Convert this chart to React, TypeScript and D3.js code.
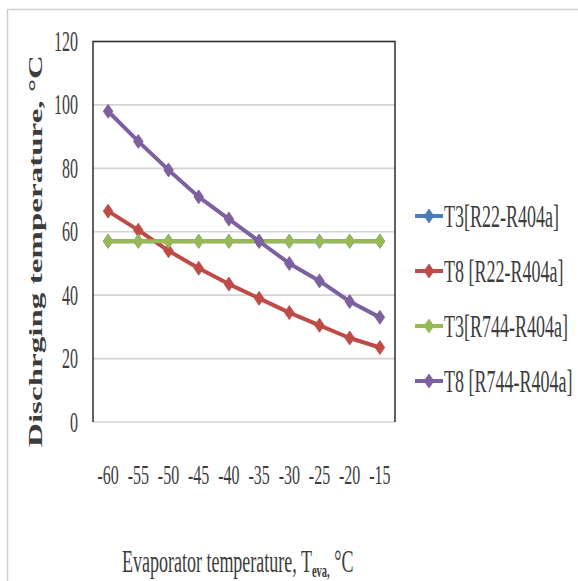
import React from "react";
import * as d3 from "d3";

const categories = [-60, -55, -50, -45, -40, -35, -30, -25, -20, -15];
const t3R22 = [57, 57, 57, 57, 57, 57, 57, 57, 57, 57];
const t8R22 = [66.5, 60.5, 54, 48.5, 43.5, 39, 34.5, 30.5, 26.5, 23.5];
const t3R744 = [57, 57, 57, 57, 57, 57, 57, 57, 57, 57];
const t8R744 = [98, 88.5, 79.5, 71, 64, 57, 50, 44.5, 38, 33];
const seriesNames = ["T3[R22-R404a]", "T8 [R22-R404a]", "T3[R744-R404a]", "T8 [R744-R404a]"];
const seriesColors = ["#4a7ebb", "#be4b48", "#98b954", "#7d60a0"];
const yTicks = [0, 20, 40, 60, 80, 100, 120];

const W = 578;
const H = 581;
const plot = { left: 93, right: 395, top: 41.5, bottom: 422 };
const textColor = "#3c3c3c";
const serif = "'Liberation Serif', 'Times New Roman', serif";

function STxt({ x, y, sy, fs, anchor, children, bold, fill, len }: any) {
  return (
    <g transform={`translate(${x},${y}) scale(1,${sy})`}>
      <text
        x={0}
        y={0}
        fontSize={fs}
        fontFamily={serif}
        textAnchor={anchor || "start"}
        fontWeight={bold ? "bold" : "normal"}
        fill={fill || textColor}
        textLength={len}
        lengthAdjust={len ? "spacingAndGlyphs" : undefined}
      >
        {children}
      </text>
    </g>
  );
}

function Diamond({ cx, cy, color }: any) {
  const w = 4.8;
  const h = 7;
  return (
    <path
      d={`M${cx},${cy - h}L${cx + w},${cy}L${cx},${cy + h}L${cx - w},${cy}Z`}
      fill={color}
      stroke={color}
      strokeWidth={0.8}
    />
  );
}

export default function App() {
  const x = d3.scalePoint<number>().domain(categories).range([plot.left, plot.right]).padding(0.5);
  const y = d3.scaleLinear().domain([0, 120]).range([plot.bottom, plot.top]);
  const allSeries = [t3R22, t8R22, t3R744, t8R744];
  const line = d3
    .line<number>()
    .x((_, i) => x(categories[i]) as number)
    .y((d) => y(d));

  const legendY = [216, 271, 326, 381];

  return (
    <svg
      width={W}
      height={H}
      style={{ position: "absolute", left: 0, top: 0, background: "#fff" }}
    >
      <rect x={0} y={0} width={W} height={H} fill="#fff" />
      <rect x={7.5} y={9.5} width={W + 10} height={H + 10} fill="none" stroke="#d0d0d0" strokeWidth={1.5} />

      {/* gridlines */}
      {yTicks.map((t) => (
        <line
          key={t}
          x1={plot.left}
          x2={plot.right}
          y1={y(t)}
          y2={y(t)}
          stroke="#d4d4d4"
          strokeWidth={1.6}
        />
      ))}
      {/* plot border: top, left, right */}
      <path
        d={`M${plot.left},${plot.bottom}V${plot.top}H${plot.right}V${plot.bottom}`}
        fill="none"
        stroke="#2e2e2e"
        strokeWidth={1.5}
      />

      {/* y tick labels */}
      {yTicks.map((t) => (
        <STxt key={t} x={78} y={y(t) + 9.5} sy={1.85} fs={16} anchor="end">
          {t}
        </STxt>
      ))}

      {/* x tick labels */}
      {categories.map((c) => (
        <STxt key={c} x={x(c) as number} y={483.5} sy={1.65} fs={16} anchor="middle">
          {c}
        </STxt>
      ))}

      {/* series */}
      {allSeries.map((s, si) => (
        <g key={si}>
          <path d={line(s) as string} fill="none" stroke={seriesColors[si]} strokeWidth={4} strokeLinejoin="round" />
          {s.map((v, i) => (
            <Diamond key={i} cx={x(categories[i]) as number} cy={y(v)} color={seriesColors[si]} />
          ))}
        </g>
      ))}

      {/* legend */}
      {seriesNames.map((n, i) => (
        <g key={n}>
          <line x1={415} x2={443} y1={legendY[i]} y2={legendY[i]} stroke={seriesColors[i]} strokeWidth={4} />
          <Diamond cx={429} cy={legendY[i]} color={seriesColors[i]} />
          <STxt x={444} y={legendY[i] + 10.5} sy={1.7} fs={18}>
            {n}
          </STxt>
        </g>
      ))}

      {/* y axis title */}
      <text
        transform={`translate(42,251) rotate(-90)`}
        textAnchor="middle"
        fontSize={18}
        fontWeight="bold"
        fontFamily={serif}
        fill={textColor}
        textLength={392}
        lengthAdjust="spacingAndGlyphs"
      >
        Dischrging temperature, °C
      </text>

      {/* x axis title */}
      <g transform={`translate(122,572) scale(1,1.8)`}>
        <text x={0} y={0} fontSize={18} fontFamily={serif} fill={textColor}>
          Evaporator temperature, T
          <tspan fontSize={10.5} fontWeight="bold" dy={2.5}>
            eva,
          </tspan>
          <tspan dy={-2.5}> °C</tspan>
        </text>
      </g>
    </svg>
  );
}
